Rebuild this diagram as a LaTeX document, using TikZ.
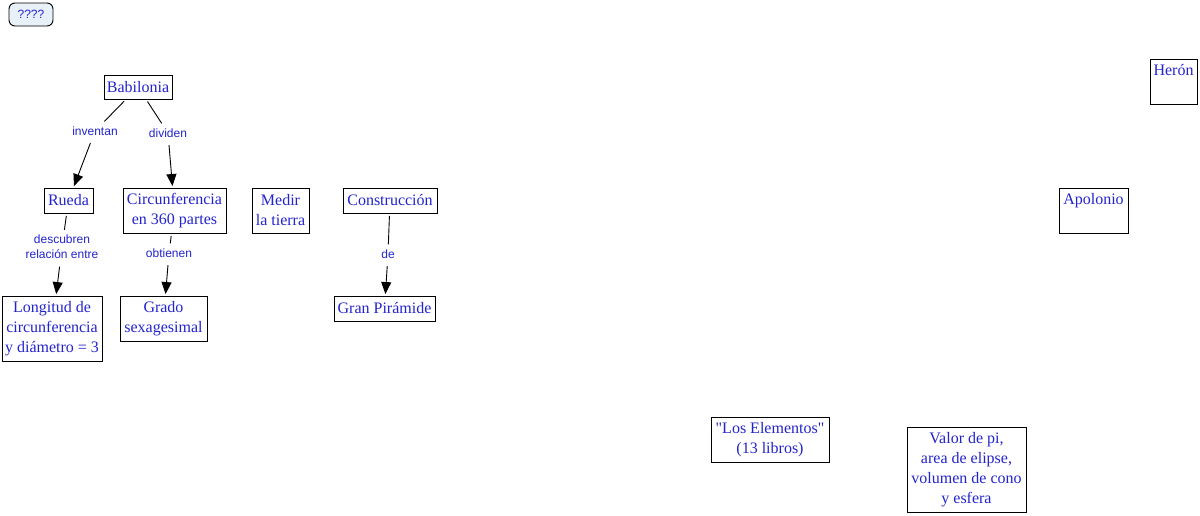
\documentclass[tikz,border=0pt]{standalone}
\usepackage{fontspec}
\setmainfont{Liberation Serif}[Ligatures=TeXOff]
\newfontfamily\lblfont{Liberation Sans}
\usetikzlibrary{arrows.meta}
\definecolor{txtblue}{RGB}{35,35,205}
\definecolor{qfill}{RGB}{232,240,248}
\tikzset{
  concept/.style={draw=black, line width=0.9pt, inner sep=0pt, align=center,
    text=txtblue, font=\fontsize{16}{20}\selectfont},
  toptext/.style={concept, inner sep=3pt, text height=13pt},
  linklbl/.style={inner sep=5pt, align=center, text=txtblue,
    font=\lblfont\fontsize{12}{15}\selectfont},
  conn/.style={draw=black, line width=0.9pt, shorten <=2.5pt},
  arr/.style={conn, -{Triangle[length=12pt,width=10pt]}, shorten >=1.5pt},
}
\begin{document}
\begin{tikzpicture}[x=1pt,y=-1pt]
\useasboundingbox (0,0) rectangle (1200,515);
% top-left legend box
\node[draw=black, line width=0.9pt, rounded corners=6pt, fill=qfill, text=txtblue,
  font=\lblfont\fontsize{12}{14}\selectfont, minimum width=44pt, minimum height=23pt,
  inner sep=0pt] (q) at (31,14.5) {????};
% concepts
\node[concept, minimum width=68pt, minimum height=24pt] (bab) at (138,87) {Babilonia};
\node[concept, minimum width=49pt, minimum height=25pt] (rueda) at (68.5,200.5) {Rueda};
\node[concept, minimum width=103pt, minimum height=45pt] (circ) at (174.5,210.5) {Circunferencia\\en 360 partes};
\node[concept, minimum width=57pt, minimum height=45pt] (medir) at (280.5,210.5) {Medir\\la tierra};
\node[concept, minimum width=94pt, minimum height=25pt] (constr) at (390,200.5) {Construcción};
\node[concept, minimum width=100pt, minimum height=65pt] (long) at (52,328.5) {Longitud de\\circunferencia\\y diámetro = 3};
\node[concept, minimum width=87pt, minimum height=45pt] (grado) at (163.5,318.5) {Grado\\sexagesimal};
\node[concept, minimum width=101pt, minimum height=25pt] (gran) at (384.5,308.5) {Gran Pirámide};
\node[concept, minimum width=118pt, minimum height=45pt] (elem) at (770,439.5) {"Los Elementos"\\(13 libros)};
\node[concept, minimum width=119pt, minimum height=85pt] (valor) at (966.5,469.5) {Valor de pi,\\area de elipse,\\volumen de cono\\y esfera};
\node[toptext, minimum width=47pt, text depth=26pt] (heron) at (1173.5,81.5) {Herón};
\node[toptext, minimum width=69pt, text depth=26pt] (apol) at (1093.5,210.5) {Apolonio};
% linking phrases
\node[linklbl] (inv) at (95,131) {inventan};
\node[linklbl] (div) at (168,133) {dividen};
\node[linklbl] (desc) at (62,247) {descubren\\relación entre};
\node[linklbl] (obt) at (169,253) {obtienen};
\node[linklbl] (de) at (388,254) {de};
% connectors
\draw[conn] (bab) -- (inv);
\draw[arr] (inv) -- (rueda);
\draw[conn] (bab) -- (div);
\draw[arr] (div) -- (circ);
\draw[conn] (rueda) -- (desc);
\draw[arr] (desc) -- (long);
\draw[conn] (circ) -- (obt);
\draw[arr] (obt) -- (grado);
\draw[conn] (constr) -- (de);
\draw[arr] (de) -- (gran);
\end{tikzpicture}
\end{document}
